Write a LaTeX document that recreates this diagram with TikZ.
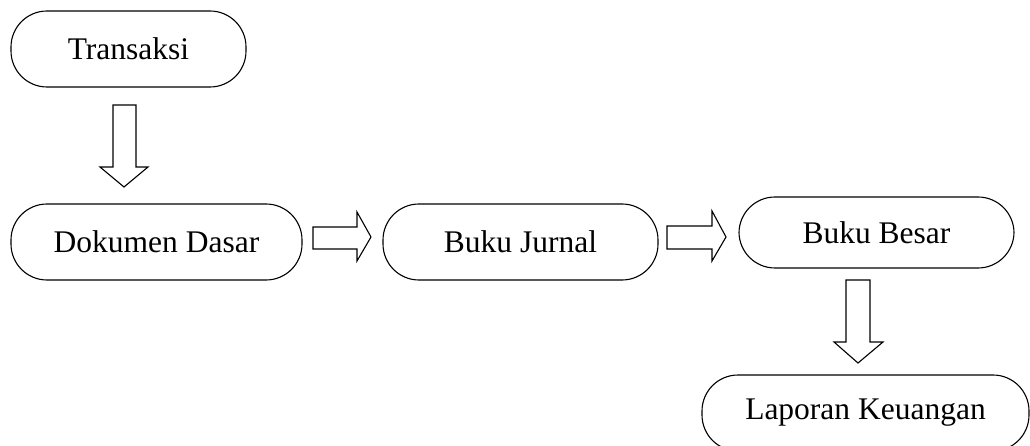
\documentclass[tikz,border=0pt]{standalone}
\usepackage{fontspec}
\setmainfont{Liberation Serif}
\begin{document}
\begin{tikzpicture}[x=1pt,y=-1pt,
  term/.style={draw, line width=1.1pt, rounded corners=36pt, inner sep=0pt,
    minimum height=76pt, font=\fontsize{31.5}{36}\selectfont},
  blockarrow/.style={draw, line width=1.1pt, line join=miter}]
\useasboundingbox (0,0) rectangle (1030,446);
\clip (0,0) rectangle (1030,446);
\node[term, minimum width=235pt] (t) at (128.5,49) {Transaksi};
\node[term, minimum width=291pt] (d) at (156.5,242) {Dokumen Dasar};
\node[term, minimum width=275pt] (j) at (520.5,242) {Buku Jurnal};
\node[term, minimum width=275pt, minimum height=71pt] (b) at (876.5,232.5) {Buku Besar};
\node[term, minimum width=327pt] (l) at (865.5,413) {Laporan Keuangan};
% block arrows
\draw[blockarrow] (113,105) -- (136,105) -- (136,167) -- (148,167) -- (124,187) -- (100,167) -- (113,167) -- cycle;
\draw[blockarrow] (313,227) -- (357,227) -- (357,212) -- (371,237) -- (357,261) -- (357,249) -- (313,249) -- cycle;
\draw[blockarrow] (667,226) -- (712,226) -- (712,211) -- (726,237) -- (712,261) -- (712,249) -- (667,249) -- cycle;
\draw[blockarrow] (846,280) -- (870,280) -- (870,342) -- (883,342) -- (858,363) -- (834,342) -- (846,342) -- cycle;
\end{tikzpicture}
\end{document}
